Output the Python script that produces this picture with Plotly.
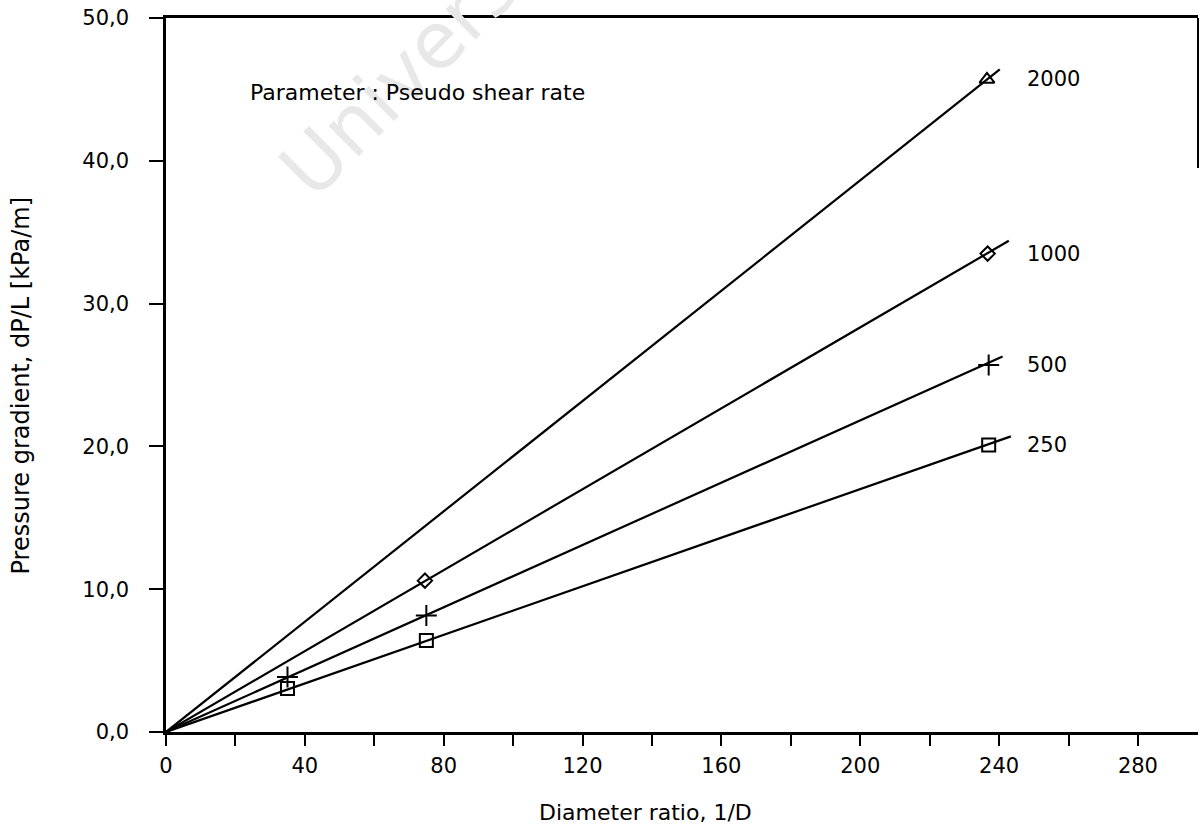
import plotly.graph_objects as go

# Data
shear_rates = ["2000", "1000", "500", "250"]
marker_symbols = ["triangle-up-open", "diamond-open", "cross-thin-open", "square-open"]
marker_sizes = [13, 11, 15, 13]

pts_x = [
    [236.5],
    [74.6, 236.7],
    [35.0, 75.0, 237.0],
    [35.0, 75.0, 237.0],
]
pts_y = [
    [45.7],
    [10.6, 33.5],
    [3.85, 8.15, 25.7],
    [3.05, 6.4, 20.1],
]

# fitted straight lines through the origin (end points)
line_x_end = [240.2, 242.8, 241.0, 243.4]
line_y_end = [46.4, 34.4, 26.3, 20.7]

x_ticks = list(range(0, 300, 20))
x_ticklabels = [str(v) if v % 40 == 0 else "" for v in x_ticks]
y_ticks = [0, 10, 20, 30, 40, 50]
y_ticklabels = ["0,0", "10,0", "20,0", "30,0", "40,0", "50,0"]

FONT = "DejaVu Sans"

fig = go.Figure()

# watermark (drawn first so the other texts sit on top of it)
fig.add_annotation(
    x=0.4457, y=1.234, xref="paper", yref="paper", text="University of Cape Town",
    showarrow=False, textangle=-45, xanchor="center", yanchor="middle",
    font=dict(family=FONT, size=78, color="#e8e8e8"),
)

for i, name in enumerate(shear_rates):
    fig.add_trace(go.Scatter(
        x=[0, line_x_end[i]], y=[0, line_y_end[i]],
        mode="lines", line=dict(color="black", width=2.2),
        showlegend=False, hoverinfo="skip", cliponaxis=False,
    ))
    fig.add_trace(go.Scatter(
        x=pts_x[i], y=pts_y[i], mode="markers", name=name,
        marker=dict(symbol=marker_symbols[i], size=marker_sizes[i],
                    color="black", line=dict(color="black", width=2)),
        showlegend=False, cliponaxis=False,
    ))
    fig.add_annotation(
        x=247.5, y=pts_y[i][-1], text=name, showarrow=False,
        xanchor="left", yanchor="middle",
        font=dict(family=FONT, size=21, color="black"),
    )

fig.add_annotation(
    x=23.5, y=44.75, text="Parameter : Pseudo shear rate", showarrow=False,
    xanchor="left", yanchor="middle",
    font=dict(family=FONT, size=22, color="black"),
)

# axis titles
fig.add_annotation(
    x=0.465, y=-0.113, xref="paper", yref="paper", text="Diameter ratio, 1/D",
    showarrow=False, xanchor="center", yanchor="middle",
    font=dict(family=FONT, size=22, color="black"),
)
fig.add_annotation(
    x=-0.1405, y=0.484, xref="paper", yref="paper",
    text="Pressure gradient, dP/L [kPa/m]", textangle=-90,
    showarrow=False, xanchor="center", yanchor="middle",
    font=dict(family=FONT, size=24, color="black"),
)

# partial right border
fig.add_shape(type="line", xref="paper", yref="paper", x0=1, x1=1, y0=1, y1=0.79,
              line=dict(color="black", width=2))

fig.update_layout(
    width=1200, height=829,
    margin=dict(l=166, r=2, t=18, b=97, autoexpand=False),
    paper_bgcolor="white", plot_bgcolor="white",
    font=dict(family=FONT, size=21, color="black"),
    showlegend=False,
)

fig.update_xaxes(
    range=[0, 297.3], tickmode="array", tickvals=x_ticks, ticktext=x_ticklabels,
    ticks="outside", ticklen=11, tickwidth=2, tickcolor="black",
    showline=True, linewidth=2.5, linecolor="black", mirror=True,
    showgrid=False, zeroline=False, automargin=False, ticklabelstandoff=2,
    tickfont=dict(family=FONT, size=21),
)
fig.update_yaxes(
    range=[0, 50], tickmode="array", tickvals=y_ticks, ticktext=y_ticklabels,
    ticks="outside", ticklen=14, tickwidth=2, tickcolor="black",
    showline=True, linewidth=2.5, linecolor="black",
    showgrid=False, zeroline=False, automargin=False, ticklabelstandoff=16,
    tickfont=dict(family=FONT, size=21),
)

fig.write_html(
    "out.html",
    config={"displayModeBar": False},
    post_script="document.body.style.margin='0px';document.body.style.overflow='hidden';",
)
